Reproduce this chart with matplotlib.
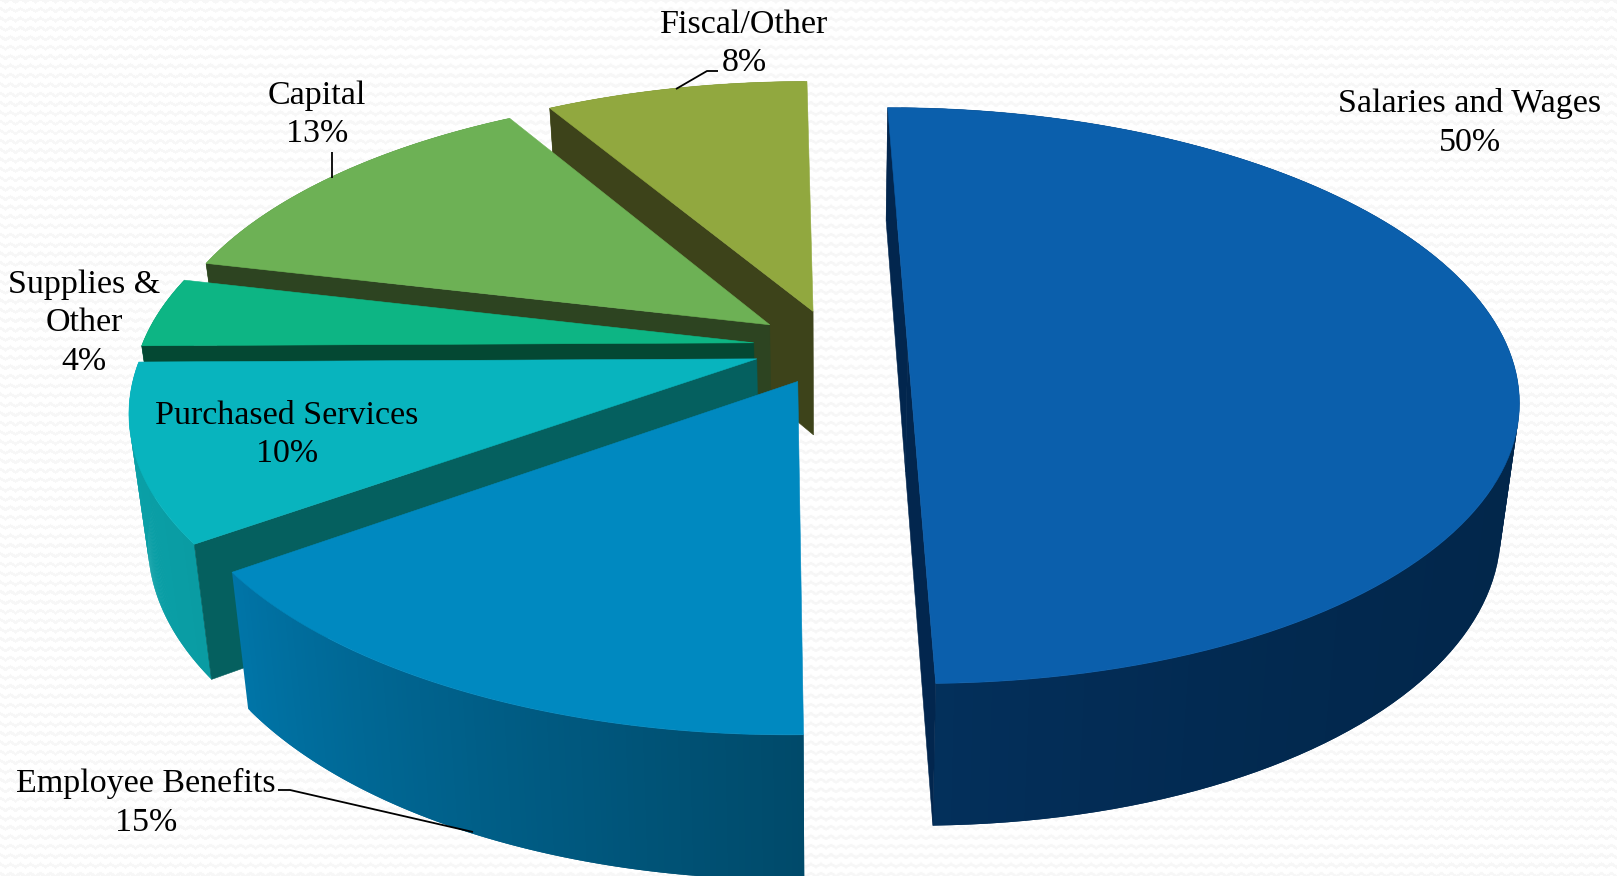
"""3D exploded pie of spending shares, drawn by hand since matplotlib has no 3D pie."""
import matplotlib

matplotlib.use("Agg")
import matplotlib.pyplot as plt
import numpy as np
from matplotlib.patches import Polygon

# shares, the labels show them rounded
shares = [50, 15.28, 9.72, 3.89, 12.86, 8.25]
names = ["Salaries and Wages", "Employee Benefits", "Purchased Services", "Supplies &\nOther", "Capital", "Fiscal/Other"]
top_colors = ["#0b5fac", "#0089c0", "#08b4be", "#0db584", "#6db155", "#91a83f"]
cut_colors = ["#02264e", "#01587c", "#05605f", "#044833", "#2d4421", "#3d431a"]
rim_start = ["#02264a", "#004a6a", "#0a9ca3", "#0a8a63", "#4d8a3a", "#6c7f2d"]
rim_end = ["#03305c", "#0075a8", "#0aa4ab", "#0a8a63", "#4d8a3a", "#6c7f2d"]
rim_power = [6, 1, 1, 1, 1, 1]
explode = [0.12, 0.135, 0.135, 0.135, 0.135, 0.135]

# where each label sits, in pixels
label_pos = [(1470, 123), (146, 803), (287, 435), (84, 323), (317, 115), (744, 44)]
leaders = [
    [(676, 89), (707, 71), (718, 71)],
    [(332, 152), (332, 178)],
    [(278, 790), (290, 790), (473, 832)],
]

CX, CY = 835, 347
A, B = 606, 280
SKEW, TILT = -11, 3
PERSP_V, PERSP_U = 0.17, 0.01


def project(u, v):
    w = 1 + PERSP_V * v + PERSP_U * u
    return CX + (A * u + SKEW * v) / w, CY - (B * v + TILT * u) / w


def extrude(x, y):
    # bottom face of the pie, lines converge a little going down
    return 0.973 * x + 22.4, 1.05 * y + 108


def mix(c1, c2, t):
    a = np.array(matplotlib.colors.to_rgb(c1))
    b = np.array(matplotlib.colors.to_rgb(c2))
    return a + (b - a) * t


fig = plt.figure(figsize=(16.17, 8.76), dpi=100, facecolor="#ffffff")
ax = fig.add_axes([0, 0, 1, 1])

# faint zigzag paper texture behind the chart
gx, gy = np.meshgrid(np.arange(1617), np.arange(876))
zig = 2.0 * np.abs((gx / 10.0) % 1 - 0.5) * 3.0
paper = np.where((gy + zig) % 9.4 < 3.2, 0.965, 1.0)
ax.imshow(paper, cmap="gray", vmin=0, vmax=1, extent=(0, 1617, 876, 0), zorder=0, interpolation="bilinear")

ax.set_xlim(0, 1617)
ax.set_ylim(876, 0)
ax.set_aspect("auto")
ax.axis("off")

edges = np.cumsum([0] + shares) / sum(shares) * 2 * np.pi
order = [5, 4, 3, 2, 1, 0]  # painted back to front
z = 1.0

for i in order:
    start, end = edges[i], edges[i + 1]
    mid = (start + end) / 2
    ou, ov = explode[i] * np.sin(mid), explode[i] * np.cos(mid)
    t = np.linspace(start, end, 121)
    px, py = project(ou + np.sin(t), ov + np.cos(t))
    bx, by = extrude(px, py)
    ax0, ay0 = project(ou, ov)
    bx0, by0 = extrude(ax0, ay0)

    # outer rim as overlapping strips so it can carry a gradient without seams
    n = len(t)
    steps = range(n - 1) if i == 0 else range(n - 2, -1, -1)
    for k in steps:
        frac = ((t[k] - start) / (end - start)) ** rim_power[i]
        k2 = min(k + 2, n - 1) if i == 0 else k + 1
        k1 = k if i == 0 else max(k - 1, 0)
        strip = [(px[k1], py[k1]), (px[k2], py[k2]), (bx[k2], by[k2]), (bx[k1], by[k1])]
        ax.add_patch(Polygon(strip, closed=True, fc=mix(rim_start[i], rim_end[i], frac), ec="none", zorder=z))
        z += 1e-4

    # the two cut faces, only the ones turned toward the viewer
    for j, sign in ((0, 1), (-1, -1)):
        quad = np.array([(px[j], py[j]), (ax0, ay0), (bx0, by0), (bx[j], by[j])])
        qx, qy = quad[:, 0], quad[:, 1]
        area = np.sum(qx * np.roll(qy, -1) - np.roll(qx, -1) * qy)
        if area * sign > 0:
            ax.add_patch(Polygon(quad, closed=True, fc=cut_colors[i], ec=cut_colors[i], lw=0.4, zorder=z))
            z += 1e-4

    face = list(zip(px, py)) + [(ax0, ay0)]
    ax.add_patch(Polygon(face, closed=True, fc=top_colors[i], ec=top_colors[i], lw=0.4, zorder=z))
    z += 1e-4

for line in leaders:
    xs, ys = zip(*line)
    ax.plot(xs, ys, color="black", lw=1.3, zorder=z + 1, solid_capstyle="butt")

for name, share, (x, y) in zip(names, shares, label_pos):
    ax.text(x, y, f"{name}\n{share:.0f}%", ha="center", va="center", multialignment="center",
            fontsize=24.5, family="Liberation Serif", color="black", linespacing=1.33, zorder=z + 2)

fig.savefig("out.png", dpi=100, facecolor=fig.get_facecolor())
